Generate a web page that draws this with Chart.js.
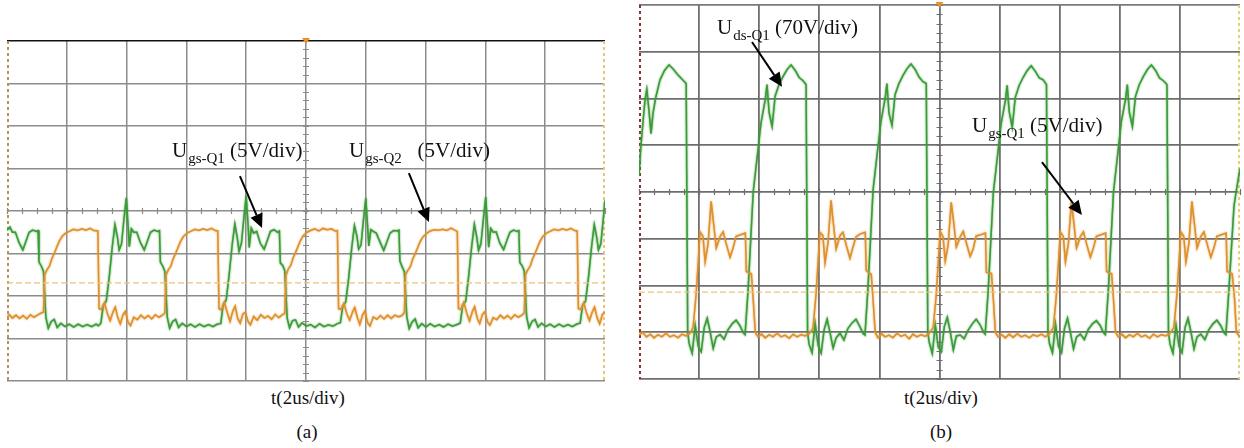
<!DOCTYPE html>
<html>
<head>
<meta charset="utf-8">
<script src="https://cdn.jsdelivr.net/npm/chart.js@4/dist/chart.umd.min.js"></script>
<style>
  body { margin: 0; background: #fff; }
  #page { position: relative; width: 1244px; height: 448px; overflow: hidden; background: #fff; }
  .box { position: absolute; }
  .lbl { position: absolute; font-family: "Liberation Serif", serif; font-size: 21px; line-height: 1; white-space: nowrap; color: #111; }
  .sb { font-size: 15px; position: relative; top: 6px; margin-left: 1px; }
  .cap { position: absolute; font-family: "Liberation Serif", serif; font-size: 19px; line-height: 1; white-space: nowrap; color: #111; transform: translateX(-50%); }
</style>
</head>
<body>
<div id="page">
  <div class="box" style="left:0px;top:35px;width:612px;height:352px"><canvas id="chartA"></canvas></div>
  <div class="box" style="left:632px;top:0px;width:612px;height:386px"><canvas id="chartB"></canvas></div>

  <div class="lbl" style="left:172px;top:140px">U<span class="sb">gs-Q1</span>&nbsp;(5V/div)</div>
  <div class="lbl" style="left:349px;top:140px">U<span class="sb">gs-Q2</span>&nbsp;&nbsp;&nbsp;(5V/div)</div>
  <div class="lbl" style="left:717px;top:17px">U<span class="sb">ds-Q1</span>&nbsp;(70V/div)</div>
  <div class="lbl" style="left:972px;top:115px">U<span class="sb">gs-Q1</span>&nbsp;(5V/div)</div>

  <div class="cap" style="left:308px;top:388px">t(2us/div)</div>
  <div class="cap" style="left:941px;top:388px">t(2us/div)</div>
  <div class="cap" style="left:307px;top:422px">(a)</div>
  <div class="cap" style="left:941px;top:422px">(b)</div>
</div>
<script>
// time in us (2us/div, 10 div), amplitude in divisions (8 div)
const xTicks = [0, 2, 4, 6, 8, 10, 12, 14, 16, 18, 20];
const yTicks = [-4, -3, -2, -1, 0, 1, 2, 3, 4];

// (a) Ugs-Q1 green, Ugs-Q2 orange
const ugsQ1A = [
  [0.00,-0.45],[0.10,-0.38],[0.18,-0.5],[0.28,-0.5],[0.40,-0.74],[0.53,-0.92],[0.64,-0.7],[0.74,-0.5],[0.86,-0.45],[0.98,-0.48],
  [1.04,-0.46],[1.07,-1.2],[1.15,-1.3],[1.22,-1.42],[1.30,-2.5],[1.38,-2.76],[1.48,-2.6],[1.58,-2.55],[1.68,-2.74],[1.80,-2.64],
  [1.94,-2.72],[2.08,-2.66],[2.23,-2.73],[2.38,-2.66],[2.53,-2.72],[2.68,-2.67],[2.83,-2.72],[2.98,-2.66],[3.06,-2.7],
  [3.14,-2.64],[3.22,-2.22],[3.32,-2.12],[3.42,-1.55],[3.52,-0.85],[3.61,-0.32],[3.69,-0.6],[3.75,-0.92],[3.83,-0.78],[3.91,-0.2],
  [3.99,0.31],[4.05,-0.35],[4.09,-0.84],[4.16,-0.42],[4.24,-0.5],[4.34,-0.5],[4.46,-0.74],[4.59,-0.92],[4.70,-0.7],[4.80,-0.5],
  [4.92,-0.45],[5.04,-0.48],[5.10,-0.46],[5.13,-1.2],[5.21,-1.3],[5.28,-1.42],[5.36,-2.5],[5.44,-2.76],[5.54,-2.6],[5.64,-2.55],
  [5.74,-2.74],[5.86,-2.64],[6.00,-2.72],[6.14,-2.66],[6.29,-2.73],[6.44,-2.66],[6.59,-2.72],[6.74,-2.67],[6.89,-2.72],[7.04,-2.66],
  [7.15,-2.65],[7.23,-2.2],[7.33,-2.1],[7.43,-1.5],[7.53,-0.8],[7.62,-0.3],[7.70,-0.62],[7.76,-0.95],[7.84,-0.76],[7.92,-0.18],
  [8.00,0.36],[8.06,-0.3],[8.10,-0.86],[8.17,-0.4],[8.25,-0.52],[8.35,-0.48],[8.47,-0.76],[8.60,-0.9],[8.71,-0.68],[8.81,-0.48],
  [8.93,-0.44],[9.05,-0.5],[9.11,-0.47],[9.14,-1.22],[9.22,-1.28],[9.29,-1.4],[9.37,-2.52],[9.45,-2.75],[9.55,-2.58],[9.65,-2.56],
  [9.75,-2.73],[9.87,-2.63],[10.01,-2.71],[10.15,-2.67],[10.30,-2.74],[10.45,-2.65],[10.60,-2.72],[10.75,-2.68],[10.90,-2.71],[11.05,-2.65],
  [11.15,-2.63],[11.23,-2.24],[11.33,-2.14],[11.43,-1.56],[11.53,-0.86],[11.62,-0.34],[11.70,-0.58],[11.76,-0.9],[11.84,-0.8],[11.92,-0.22],
  [12.00,0.3],[12.06,-0.36],[12.10,-0.82],[12.17,-0.44],[12.25,-0.48],[12.35,-0.52],[12.47,-0.72],[12.60,-0.93],[12.71,-0.72],[12.81,-0.52],
  [12.93,-0.46],[13.05,-0.47],[13.11,-0.45],[13.14,-1.18],[13.22,-1.32],[13.29,-1.43],[13.37,-2.48],[13.45,-2.77],[13.55,-2.61],[13.65,-2.54],
  [13.75,-2.75],[13.87,-2.65],[14.01,-2.73],[14.15,-2.65],[14.30,-2.72],[14.45,-2.67],[14.60,-2.73],[14.75,-2.66],[14.90,-2.71],[15.05,-2.67],
  [15.16,-2.64],[15.24,-2.21],[15.34,-2.13],[15.44,-1.54],[15.54,-0.84],[15.63,-0.31],[15.71,-0.61],[15.77,-0.93],[15.85,-0.77],[15.93,-0.21],
  [16.01,0.33],[16.07,-0.33],[16.11,-0.85],[16.18,-0.41],[16.26,-0.5],[16.36,-0.49],[16.48,-0.75],[16.61,-0.91],[16.72,-0.69],[16.82,-0.5],
  [16.94,-0.45],[17.06,-0.48],[17.12,-0.46],[17.15,-1.21],[17.23,-1.29],[17.30,-1.41],[17.38,-2.5],[17.46,-2.75],[17.56,-2.6],[17.66,-2.55],
  [17.76,-2.73],[17.88,-2.64],[18.02,-2.72],[18.16,-2.66],[18.31,-2.73],[18.46,-2.66],[18.61,-2.72],[18.76,-2.67],[18.91,-2.72],[19.06,-2.66],
  [19.17,-2.64],[19.25,-2.22],[19.35,-2.12],[19.45,-1.55],[19.55,-0.85],[19.64,-0.32],[19.72,-0.6],[19.78,-0.92],[19.86,-0.78],[19.94,-0.2],
  [20.00,0.25]
];
const ugsQ2A = [
  [0.00,-2.5],[0.08,-2.44],[0.18,-2.52],[0.30,-2.45],[0.42,-2.53],[0.54,-2.46],[0.66,-2.54],[0.78,-2.44],[0.90,-2.5],[1.02,-2.45],
  [1.14,-2.4],[1.22,-2.38],[1.26,-1.5],[1.34,-1.38],[1.42,-1.3],[1.50,-1.12],[1.58,-1.0],[1.66,-0.86],[1.74,-0.72],[1.84,-0.6],
  [1.96,-0.52],[2.08,-0.48],[2.22,-0.43],[2.36,-0.46],[2.50,-0.42],[2.64,-0.45],[2.78,-0.41],[2.90,-0.46],[3.04,-0.47],[3.08,-2.3],
  [3.16,-2.32],[3.26,-2.16],[3.36,-2.42],[3.45,-2.58],[3.54,-2.38],[3.62,-2.26],[3.71,-2.52],[3.79,-2.66],[3.88,-2.44],[3.96,-2.36],
  [4.05,-2.62],[4.13,-2.7],[4.24,-2.5],[4.36,-2.56],[4.48,-2.45],[4.60,-2.53],[4.72,-2.46],[4.84,-2.54],[4.96,-2.44],[5.08,-2.5],
  [5.20,-2.45],[5.28,-2.4],[5.32,-1.5],[5.40,-1.38],[5.48,-1.3],[5.56,-1.12],[5.64,-1.0],[5.72,-0.86],[5.80,-0.72],[5.90,-0.6],
  [6.02,-0.52],[6.14,-0.48],[6.28,-0.43],[6.42,-0.46],[6.56,-0.42],[6.70,-0.45],[6.84,-0.41],[6.96,-0.46],[7.05,-0.47],[7.09,-2.3],
  [7.17,-2.33],[7.27,-2.14],[7.37,-2.4],[7.46,-2.6],[7.55,-2.36],[7.63,-2.24],[7.72,-2.54],[7.80,-2.64],[7.89,-2.42],[7.97,-2.38],
  [8.06,-2.6],[8.14,-2.68],[8.25,-2.48],[8.37,-2.57],[8.49,-2.44],[8.61,-2.52],[8.73,-2.47],[8.85,-2.55],[8.97,-2.43],[9.09,-2.51],
  [9.21,-2.44],[9.29,-2.41],[9.33,-1.52],[9.41,-1.36],[9.49,-1.28],[9.57,-1.1],[9.65,-0.98],[9.73,-0.84],[9.81,-0.7],[9.91,-0.58],
  [10.03,-0.5],[10.15,-0.46],[10.29,-0.42],[10.43,-0.47],[10.57,-0.41],[10.71,-0.44],[10.85,-0.42],[10.97,-0.47],[11.05,-0.46],[11.09,-2.3],
  [11.17,-2.31],[11.27,-2.17],[11.37,-2.43],[11.46,-2.57],[11.55,-2.39],[11.63,-2.27],[11.72,-2.51],[11.80,-2.67],[11.89,-2.45],[11.97,-2.35],
  [12.06,-2.63],[12.14,-2.71],[12.25,-2.49],[12.37,-2.55],[12.49,-2.46],[12.61,-2.54],[12.73,-2.45],[12.85,-2.53],[12.97,-2.45],[13.09,-2.49],
  [13.21,-2.46],[13.29,-2.39],[13.33,-1.49],[13.41,-1.39],[13.49,-1.31],[13.57,-1.13],[13.65,-1.01],[13.73,-0.87],[13.81,-0.73],[13.91,-0.61],
  [14.03,-0.53],[14.15,-0.47],[14.29,-0.44],[14.43,-0.45],[14.57,-0.43],[14.71,-0.46],[14.85,-0.4],[14.97,-0.45],[15.06,-0.48],[15.10,-2.3],
  [15.18,-2.32],[15.28,-2.15],[15.38,-2.41],[15.47,-2.59],[15.56,-2.37],[15.64,-2.25],[15.73,-2.53],[15.81,-2.65],[15.90,-2.43],[15.98,-2.37],
  [16.07,-2.61],[16.15,-2.69],[16.26,-2.51],[16.38,-2.56],[16.50,-2.45],[16.62,-2.53],[16.74,-2.46],[16.86,-2.54],[16.98,-2.44],[17.10,-2.5],
  [17.22,-2.45],[17.30,-2.4],[17.34,-1.5],[17.42,-1.38],[17.50,-1.3],[17.58,-1.12],[17.66,-1.0],[17.74,-0.86],[17.82,-0.72],[17.92,-0.6],
  [18.04,-0.52],[18.16,-0.48],[18.30,-0.43],[18.44,-0.46],[18.58,-0.42],[18.72,-0.45],[18.86,-0.41],[18.98,-0.46],[19.07,-0.47],[19.11,-2.3],
  [19.19,-2.32],[19.29,-2.16],[19.39,-2.42],[19.48,-2.58],[19.57,-2.38],[19.65,-2.26],[19.74,-2.52],[19.82,-2.66],[19.91,-2.44],[20.00,-2.38]
];
const refLevelA = -1.69;

// (b) Uds-Q1 green, Ugs-Q1 orange
const udsQ1B = [
  [0.00,0.35],[0.06,0.95],[0.12,1.4],[0.20,1.97],[0.26,2.2],[0.33,1.75],[0.40,1.25],[0.47,1.7],[0.55,2.0],[0.70,2.4],
  [0.85,2.6],[1.00,2.72],[1.15,2.62],[1.30,2.5],[1.45,2.4],[1.57,2.32],
  [1.62,-3.0],[1.67,-3.25],[1.77,-3.45],[1.87,-2.85],[1.97,-3.3],[2.07,-3.42],[2.17,-2.9],[2.27,-2.7],[2.37,-3.0],[2.47,-3.35],
  [2.57,-3.1],[2.70,-3.05],[2.83,-3.15],[2.96,-2.95],[3.10,-2.82],[3.23,-2.74],[3.36,-2.86],[3.46,-3.0],[3.53,-3.05],[3.63,-2.1],
  [3.80,0.0],[3.96,0.9],[4.06,1.48],[4.20,1.97],[4.26,2.3],[4.33,1.7],[4.43,1.4],[4.53,2.05],[4.66,2.3],[4.80,2.48],
  [4.93,2.62],[5.06,2.72],[5.20,2.6],[5.33,2.45],[5.46,2.38],[5.56,2.3],
  [5.61,-3.0],[5.66,-3.26],[5.76,-3.44],[5.86,-2.8],[5.96,-3.28],[6.06,-3.45],[6.16,-2.95],[6.26,-2.72],[6.36,-3.02],[6.46,-3.34],
  [6.56,-3.12],[6.69,-3.02],[6.82,-3.17],[6.95,-2.92],[7.09,-2.8],[7.22,-2.72],[7.35,-2.88],[7.45,-3.02],[7.52,-3.06],[7.62,-2.05],
  [7.79,0.05],[7.95,0.95],[8.05,1.5],[8.19,2.0],[8.25,2.32],[8.32,1.68],[8.42,1.42],[8.52,2.08],[8.65,2.32],[8.79,2.5],
  [8.92,2.64],[9.05,2.74],[9.19,2.62],[9.32,2.46],[9.45,2.36],[9.56,2.32],
  [9.61,-3.0],[9.66,-3.22],[9.76,-3.46],[9.86,-2.84],[9.96,-3.32],[10.06,-3.42],[10.16,-2.88],[10.26,-2.68],[10.36,-3.0],[10.46,-3.38],
  [10.56,-3.08],[10.69,-3.06],[10.82,-3.14],[10.95,-2.96],[11.09,-2.82],[11.22,-2.72],[11.35,-2.84],[11.45,-2.98],[11.52,-3.04],[11.62,-2.12],
  [11.79,-0.02],[11.95,0.88],[12.05,1.46],[12.19,1.95],[12.25,2.28],[12.32,1.72],[12.42,1.38],[12.52,2.02],[12.65,2.28],[12.79,2.46],
  [12.92,2.6],[13.05,2.7],[13.19,2.58],[13.32,2.44],[13.45,2.4],[13.56,2.3],
  [13.61,-3.0],[13.66,-3.24],[13.76,-3.44],[13.86,-2.82],[13.96,-3.3],[14.06,-3.44],[14.16,-2.92],[14.26,-2.7],[14.36,-3.02],[14.46,-3.36],
  [14.56,-3.1],[14.69,-3.04],[14.82,-3.16],[14.95,-2.94],[15.09,-2.82],[15.22,-2.75],[15.35,-2.86],[15.45,-3.0],[15.52,-3.05],[15.62,-2.08],
  [15.79,0.0],[15.95,0.92],[16.05,1.5],[16.19,1.98],[16.25,2.3],[16.32,1.7],[16.42,1.4],[16.52,2.04],[16.65,2.3],[16.79,2.48],
  [16.92,2.62],[17.05,2.72],[17.19,2.6],[17.32,2.44],[17.45,2.38],[17.57,2.3],
  [17.62,-3.0],[17.67,-3.25],[17.77,-3.45],[17.87,-2.84],[17.97,-3.3],[18.07,-3.44],[18.17,-2.9],[18.27,-2.7],[18.37,-3.0],[18.47,-3.36],
  [18.57,-3.1],[18.70,-3.04],[18.83,-3.16],[18.96,-2.95],[19.10,-2.82],[19.23,-2.74],[19.36,-2.86],[19.46,-3.0],[19.53,-3.05],[19.63,-2.1],
  [19.80,-0.3],[19.87,0.0],[20.00,0.5]
];
const ugsQ1B = [
  [0.00,-3.06],[0.12,-3.0],[0.25,-3.1],[0.38,-3.04],[0.50,-3.12],[0.63,-3.05],[0.76,-3.1],[0.90,-3.02],[1.03,-3.1],[1.16,-3.06],
  [1.30,-3.12],[1.43,-3.04],[1.56,-3.08],[1.70,-3.02],
  [1.80,-2.9],[1.90,-2.2],[1.97,-1.5],[2.03,-0.85],[2.13,-0.95],[2.20,-1.5],[2.30,-1.1],[2.40,-0.2],[2.47,-0.6],[2.57,-1.2],
  [2.70,-0.95],[2.80,-0.85],[2.90,-1.1],[3.03,-1.4],[3.13,-1.2],[3.23,-0.95],[3.36,-0.92],[3.54,-0.88],[3.57,-1.7],[3.74,-1.75],
  [3.80,-2.3],[3.87,-3.0],[3.96,-3.1],[4.08,-3.04],[4.20,-3.12],[4.33,-3.05],[4.46,-3.1],[4.60,-3.02],[4.73,-3.1],[4.86,-3.06],
  [5.00,-3.13],[5.13,-3.04],[5.26,-3.1],[5.40,-3.05],[5.53,-3.08],[5.66,-3.03],
  [5.79,-2.92],[5.89,-2.2],[5.96,-1.48],[6.02,-0.86],[6.12,-0.93],[6.19,-1.52],[6.29,-1.08],[6.39,-0.18],[6.46,-0.62],[6.56,-1.22],
  [6.69,-0.93],[6.79,-0.86],[6.89,-1.12],[7.02,-1.42],[7.12,-1.18],[7.22,-0.96],[7.35,-0.9],[7.53,-0.86],[7.56,-1.68],[7.73,-1.76],
  [7.79,-2.32],[7.86,-3.0],[7.95,-3.12],[8.07,-3.03],[8.19,-3.1],[8.32,-3.06],[8.45,-3.12],[8.59,-3.02],[8.72,-3.09],[8.85,-3.05],
  [8.99,-3.14],[9.12,-3.04],[9.25,-3.1],[9.39,-3.05],[9.52,-3.09],[9.65,-3.03],
  [9.79,-2.9],[9.89,-2.22],[9.96,-1.5],[10.02,-0.84],[10.12,-0.96],[10.19,-1.48],[10.29,-1.12],[10.39,-0.22],[10.46,-0.58],[10.56,-1.18],
  [10.69,-0.96],[10.79,-0.84],[10.89,-1.08],[11.02,-1.38],[11.12,-1.22],[11.22,-0.94],[11.35,-0.92],[11.53,-0.88],[11.56,-1.72],[11.73,-1.74],
  [11.79,-2.28],[11.86,-3.0],[11.95,-3.1],[12.07,-3.05],[12.19,-3.12],[12.32,-3.04],[12.45,-3.11],[12.59,-3.03],[12.72,-3.1],[12.85,-3.06],
  [12.99,-3.12],[13.12,-3.05],[13.25,-3.09],[13.39,-3.04],[13.52,-3.1],[13.65,-3.04],
  [13.79,-2.9],[13.89,-2.2],[13.96,-1.5],[14.02,-0.85],[14.12,-0.95],[14.19,-1.5],[14.29,-1.1],[14.39,-0.2],[14.46,-0.6],[14.56,-1.2],
  [14.69,-0.95],[14.79,-0.85],[14.89,-1.1],[15.02,-1.4],[15.12,-1.2],[15.22,-0.95],[15.35,-0.92],[15.53,-0.88],[15.56,-1.7],[15.73,-1.75],
  [15.79,-2.3],[15.86,-3.0],[15.95,-3.1],[16.07,-3.04],[16.19,-3.12],[16.32,-3.05],[16.45,-3.1],[16.59,-3.02],[16.72,-3.1],[16.85,-3.06],
  [16.99,-3.13],[17.12,-3.04],[17.25,-3.1],[17.39,-3.05],[17.52,-3.08],[17.66,-3.03],
  [17.80,-2.9],[17.90,-2.2],[17.97,-1.5],[18.03,-0.85],[18.13,-0.95],[18.20,-1.5],[18.30,-1.1],[18.40,-0.2],[18.47,-0.6],[18.57,-1.2],
  [18.70,-0.95],[18.80,-0.85],[18.90,-1.1],[19.03,-1.4],[19.13,-1.2],[19.23,-0.95],[19.36,-0.92],[19.54,-0.88],[19.57,-1.7],[19.74,-1.75],
  [19.82,-2.3],[19.88,-3.0],[20.00,-3.1]
];
const refLevelB = -2.14;

// arrows: [fromT, fromV, toT, toV]
const arrowsA = [[7.79, 0.82, 8.53, -0.40], [13.44, 0.89, 14.11, -0.26]];
const arrowsB = [[3.76, 3.21, 4.76, 2.25], [13.41, 0.64, 14.74, -0.49]];

const green = '#3b9b38';
const orange = '#de902c';
const refColor = '#efc27a';

// scope screen decorations: borders, center ticks, trigger mark, arrows
const scopePlugin = {
  id: 'scope',
  beforeDatasetsDraw(chart, args, opts) {
    const ctx = chart.ctx, a = chart.chartArea;
    const xs = chart.scales.x, ys = chart.scales.y;
    ctx.save();
    // dashed side borders
    ctx.lineWidth = 2;
    ctx.setLineDash([3, 3]);
    ctx.strokeStyle = opts.leftColor;
    ctx.beginPath(); ctx.moveTo(a.left + 1, a.top); ctx.lineTo(a.left + 1, a.bottom); ctx.stroke();
    ctx.strokeStyle = opts.rightColor;
    ctx.beginPath(); ctx.moveTo(a.right - 1, a.top); ctx.lineTo(a.right - 1, a.bottom); ctx.stroke();
    ctx.setLineDash([]);
    // minor ticks on the center cross
    const cx = xs.getPixelForValue(10), cy = ys.getPixelForValue(0);
    ctx.strokeStyle = opts.tickColor;
    ctx.lineWidth = 1.2;
    ctx.beginPath();
    for (let v = -4; v <= 4.001; v += 0.2) {
      const y = Math.round(ys.getPixelForValue(v)) + 0.5;
      ctx.moveTo(cx - 3, y); ctx.lineTo(cx + 3, y);
    }
    for (let t = 0; t <= 20.001; t += 0.5) {
      const x = Math.round(xs.getPixelForValue(t)) + 0.5;
      ctx.moveTo(x, cy - 3); ctx.lineTo(x, cy + 3);
    }
    ctx.stroke();
    ctx.restore();
  },
  beforeDatasetDraw(chart, args) {
    const ds = chart.data.datasets[args.index];
    chart.ctx.save();
    if (!ds.borderDash) {
      chart.ctx.shadowColor = ds.borderColor;
      chart.ctx.shadowBlur = 2;
    }
  },
  afterDatasetDraw(chart) {
    chart.ctx.restore();
  },
  afterDatasetsDraw(chart, args, opts) {
    const ctx = chart.ctx, a = chart.chartArea;
    const xs = chart.scales.x, ys = chart.scales.y;
    ctx.save();
    // trigger marker at top center
    const mx = xs.getPixelForValue(10);
    ctx.fillStyle = '#e8902a';
    ctx.beginPath();
    ctx.moveTo(mx - 4, a.top - 3); ctx.lineTo(mx + 4, a.top - 3); ctx.lineTo(mx, a.top + 3);
    ctx.closePath(); ctx.fill();
    // annotation arrows
    ctx.strokeStyle = '#000'; ctx.fillStyle = '#000'; ctx.lineWidth = 2;
    opts.arrows.forEach(function(ar) {
      const x1 = xs.getPixelForValue(ar[0]), y1 = ys.getPixelForValue(ar[1]);
      const x2 = xs.getPixelForValue(ar[2]), y2 = ys.getPixelForValue(ar[3]);
      const ang = Math.atan2(y2 - y1, x2 - x1);
      const len = 14, hw = 6.5;
      const bx = x2 - len * Math.cos(ang), by = y2 - len * Math.sin(ang);
      ctx.beginPath(); ctx.moveTo(x1, y1); ctx.lineTo(bx, by); ctx.stroke();
      ctx.beginPath();
      ctx.moveTo(x2, y2);
      ctx.lineTo(bx + hw * Math.sin(ang), by - hw * Math.cos(ang));
      ctx.lineTo(bx - hw * Math.sin(ang), by + hw * Math.cos(ang));
      ctx.closePath(); ctx.fill();
    });
    ctx.restore();
  }
};

function makeScope(id, greenData, orangeData, refLevel, arrows, look) {
  new Chart(document.getElementById(id), {
    type: 'line',
    data: {
      datasets: [
        { data: [[0, refLevel], [20, refLevel]], borderColor: refColor, borderWidth: 1.3, borderDash: [6, 3] },
        { data: orangeData, borderColor: orange, borderWidth: 1.5 },
        { data: greenData, borderColor: green, borderWidth: 1.5 }
      ]
    },
    options: {
      responsive: true,
      maintainAspectRatio: false,
      animation: false,
      events: [],
      layout: { padding: look.padding },
      elements: { point: { radius: 0 }, line: { tension: 0 } },
      plugins: {
        legend: { display: false },
        tooltip: { enabled: false },
        scope: { arrows: arrows, leftColor: look.leftColor, rightColor: look.rightColor, tickColor: look.grid }
      },
      scales: {
        x: {
          type: 'linear', min: 0, max: 20,
          afterBuildTicks: s => { s.ticks = xTicks.map(v => ({ value: v })); },
          afterFit: s => { s.height = 0; },
          ticks: { display: false },
          border: { display: false },
          grid: {
            drawTicks: false,
            lineWidth: look.gridWidth,
            color: c => (c.tick && (c.tick.value === 0 || c.tick.value === 20)) ? 'rgba(0,0,0,0)' : look.grid
          }
        },
        y: {
          type: 'linear', min: -4, max: 4,
          afterBuildTicks: s => { s.ticks = yTicks.map(v => ({ value: v })); },
          afterFit: s => { s.width = 0; },
          ticks: { display: false },
          border: { display: false },
          grid: {
            drawTicks: false,
            lineWidth: look.gridWidth,
            color: c => (c.tick && c.tick.value === 4) ? look.topColor : look.grid
          }
        }
      }
    },
    plugins: [scopePlugin]
  });
}

makeScope('chartA', ugsQ1A, ugsQ2A, refLevelA, arrowsA, {
  padding: { left: 7, right: 7, top: 6, bottom: 6 },
  grid: '#8c8c8c', gridWidth: 1.5, topColor: '#111111',
  leftColor: '#b8925a', rightColor: '#e9c47c'
});
makeScope('chartB', udsQ1B, ugsQ1B, refLevelB, arrowsB, {
  padding: { left: 7, right: 4, top: 5, bottom: 7 },
  grid: '#6e6e6e', gridWidth: 1.8, topColor: '#7a7a7a',
  leftColor: '#8a3434', rightColor: '#eccb7a'
});
</script>
</body>
</html>
